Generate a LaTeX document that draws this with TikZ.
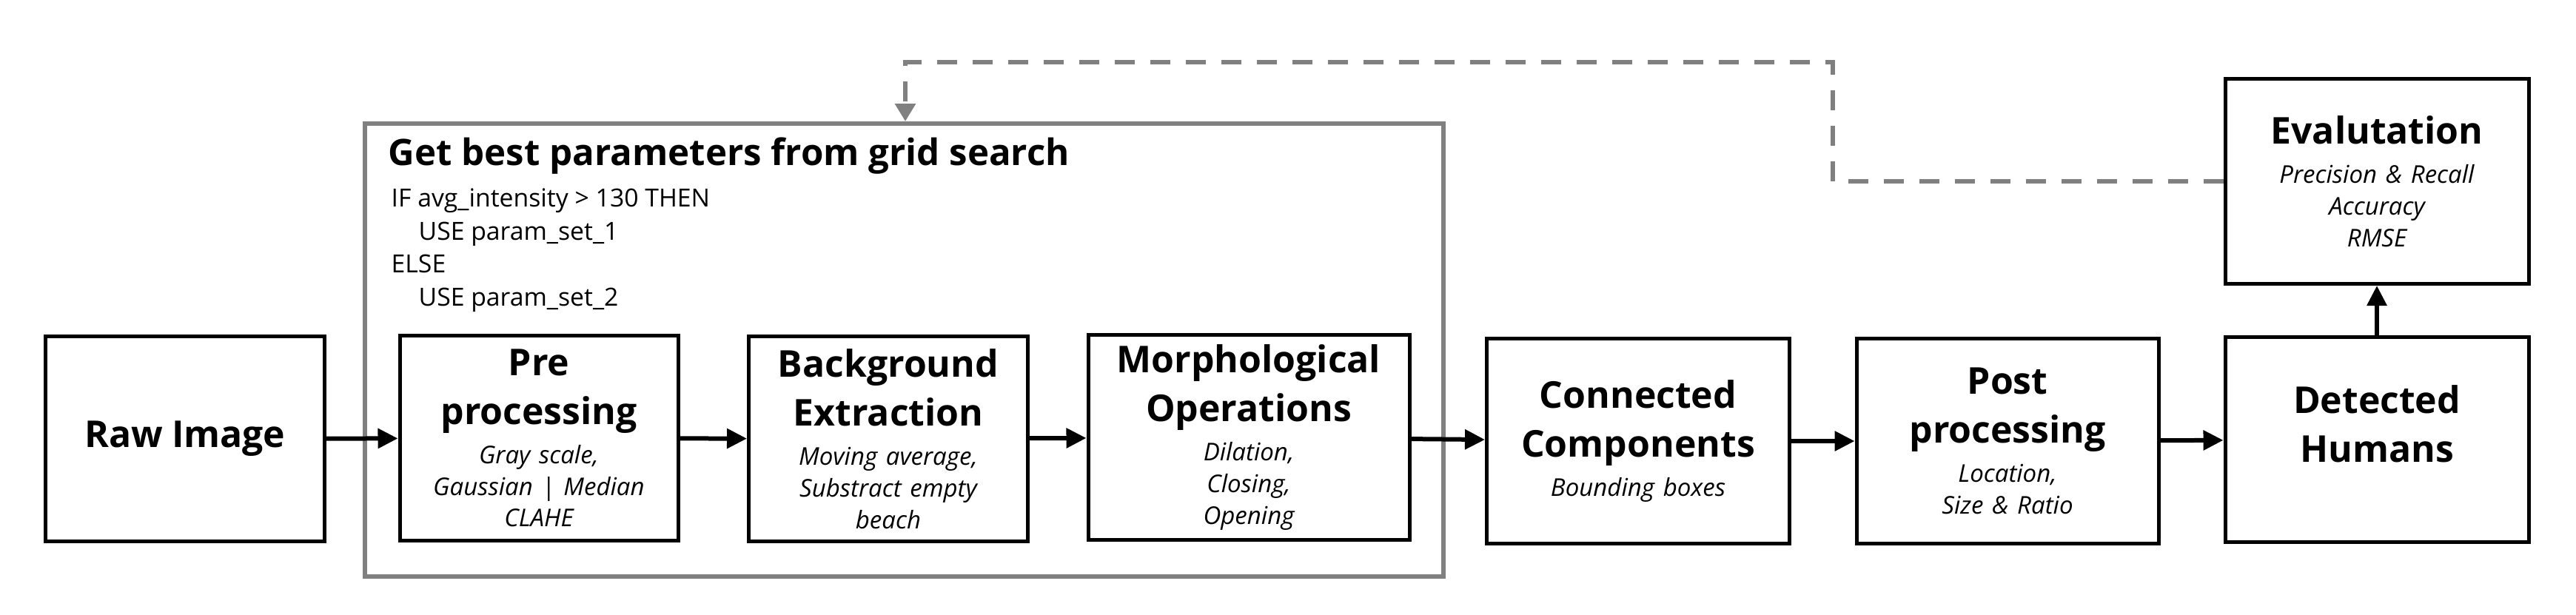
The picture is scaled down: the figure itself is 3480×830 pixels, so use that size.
\documentclass[tikz,border=0pt]{standalone}
\usepackage{fontspec}
\setmainfont{Open Sans}
\usetikzlibrary{arrows.meta}

\definecolor{grigio}{HTML}{808080}
\newcommand{\titolo}{\fontsize{14.2}{18.8}\selectfont\bfseries}
\newcommand{\nota}{\fontsize{9.4}{12.2}\selectfont\itshape}

\tikzset{
  blocco/.style={draw, line width=0.5mm, text width=#1, minimum height=27.7mm, inner sep=0pt, align=center},
  blocco/.default=37.7mm,
  freccia/.style={-{Triangle[length=2.7mm,width=2.6mm]}, line width=0.6mm},
  ritorno/.style={-{Triangle[length=2.4mm,width=2.7mm]}, line width=0.6mm, grigio, dash pattern=on 2.7mm off 2.1mm}
}

\begin{document}
\begin{tikzpicture}[x=0.1mm, y=-0.1mm]
\useasboundingbox (0,0) rectangle (3480,830);

% Riquadro della ricerca a griglia
\node[draw=grigio, line width=0.6mm, minimum width=145.7mm, minimum height=61.2mm, inner sep=0pt] (griglia) at (1221.5,473) {};
\node[anchor=base west, inner sep=0pt, font=\fontsize{14}{16}\selectfont\bfseries] (titgriglia) at (524,223) {Get best parameters from grid search};
\node[anchor=north west, align=left, inner sep=0pt, font=\fontsize{9.6}{12.7}\selectfont] (regola) at (528,254) {IF avg\_intensity > 130 THEN\\ \hspace*{3.7mm}USE param\_set\_1\\ ELSE\\ \hspace*{3.7mm}USE param\_set\_2};

% Blocchi principali
\node[blocco] (raw) at (250,593) {\titolo Raw Image};
\node[blocco=37.6mm] (pre) at (728,592) {{\titolo Pre\par processing\par}\vspace{2.8pt}{\nota Gray scale,\par Gaussian | Median\par CLAHE\par}};
\node[blocco] (sfondo) at (1200,593) {{\titolo Background\par Extraction\par}\vspace{2.8pt}{\nota Moving average,\par Substract empty\par beach\par}};
\node[blocco=43.4mm] (morfo) at (1687,591) {{\titolo Morphological\par Operations\par}\vspace{2.8pt}{\nota Dilation,\par Closing,\par Opening\par}};
\node[blocco=40.9mm] (conn) at (2213,596) {{\titolo Connected\par Components\par}\vspace{2.8pt}{\nota Bounding boxes\par}};
\node[blocco=40.8mm] (post) at (2712,596) {{\titolo Post\par processing\par}\vspace{2.8pt}{\nota Location,\par Size \& Ratio\par}};
\node[blocco=41mm] (umani) at (3211,594) {{\titolo Detected\par Humans\par}{\nota\mbox{}\par}};
\node[blocco=41mm] (valuta) at (3211,245) {{\titolo Evalutation\par}\vspace{2.8pt}{\nota Precision \& Recall\par Accuracy\par RMSE\par}};

% Frecce
\draw[freccia] (raw) -- (pre);
\draw[freccia] (pre) -- (sfondo);
\draw[freccia] (sfondo) -- (morfo);
\draw[freccia] (morfo) -- (conn);
\draw[freccia] (conn) -- (post);
\draw[freccia] (post) -- (umani);
\draw[freccia] (umani) -- (valuta);

% Ritorno tratteggiato
\coordinate (svoltadx) at (2476,84);
\coordinate (svoltasx) at (1223,84);
\draw[ritorno] (valuta.west) -| (svoltadx) -- (svoltasx) -- (griglia.north -| svoltasx);

\end{tikzpicture}
\end{document}
